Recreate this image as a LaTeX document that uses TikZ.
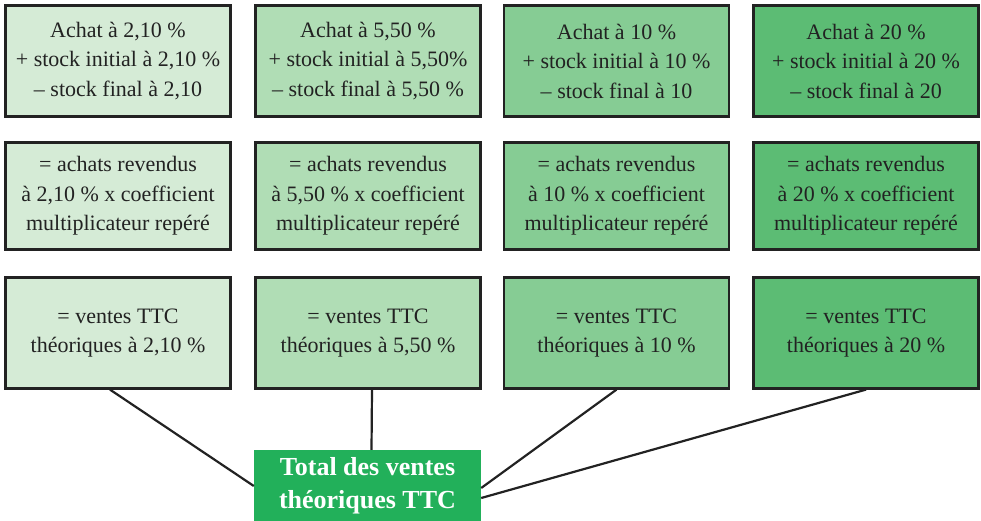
\documentclass[tikz,border=0pt]{standalone}
\usepackage{fontspec}
\setmainfont{Liberation Serif}
\definecolor{cA}{HTML}{D5EBD6}
\definecolor{cB}{HTML}{B0DDB5}
\definecolor{cC}{HTML}{86CC94}
\definecolor{cD}{HTML}{5CBC74}
\definecolor{tot}{HTML}{22B05A}
\definecolor{ink}{HTML}{222222}
\begin{document}
\begin{tikzpicture}[x=1pt,y=-1pt,
  box/.style={draw=ink, line width=2.2pt, minimum width=225pt, minimum height=111pt,
    align=center, inner sep=0pt, text=ink, font=\fontsize{22}{29.5}\selectfont},
  link/.style={draw=ink, line width=2.2pt}]
\useasboundingbox (0,0) rectangle (981,521);
% row 1
\node[box, fill=cA] (a1) at (118,61) {Achat à 2,10 \%\\+ stock initial à 2,10 \%\\– stock final à 2,10};
\node[box, fill=cB] (a2) at (368,61) {Achat à 5,50 \%\\+ stock initial à 5,50\%\\– stock final à 5,50 \%};
\node[box, fill=cC] (a3) at (616.5,61) {Achat à 10 \%\\+ stock initial à 10 \%\\– stock final à 10};
\node[box, fill=cD] (a4) at (866,61) {Achat à 20 \%\\+ stock initial à 20 \%\\– stock final à 20};
% row 2
\node[box, fill=cA, minimum height=107pt] (b1) at (118,196) {= achats revendus\\à 2,10 \% x coefficient\\multiplicateur repéré};
\node[box, fill=cB, minimum height=107pt] (b2) at (368,196) {= achats revendus\\à 5,50 \% x coefficient\\multiplicateur repéré};
\node[box, fill=cC, minimum height=107pt] (b3) at (616.5,196) {= achats revendus\\à 10 \% x coefficient\\multiplicateur repéré};
\node[box, fill=cD, minimum height=107pt] (b4) at (866,196) {= achats revendus\\à 20 \% x coefficient\\multiplicateur repéré};
% row 3
\node[box, fill=cA] (c1) at (118,333) {= ventes TTC\\théoriques à 2,10 \%};
\node[box, fill=cB] (c2) at (368,333) {= ventes TTC\\théoriques à 5,50 \%};
\node[box, fill=cC] (c3) at (616.5,333) {= ventes TTC\\théoriques à 10 \%};
\node[box, fill=cD] (c4) at (866,333) {= ventes TTC\\théoriques à 20 \%};
% total
\node[fill=tot, minimum width=227pt, minimum height=72pt, inner sep=0pt, align=center,
  text=white, font=\bfseries\fontsize{26}{33}\selectfont] (t) at (367.5,486)
  {Total des ventes\\théoriques TTC};
% connectors
\draw[link] ([xshift=-8pt]c1.south) -- (t.west);
\draw[link] ([xshift=4pt]c2.south) -- ([xshift=4pt]t.north);
\draw[link] (c3.south) -- ([yshift=-2pt]t.east);
\draw[link] (c4.south) -- ([yshift=-12pt]t.east);
\end{tikzpicture}
\end{document}
